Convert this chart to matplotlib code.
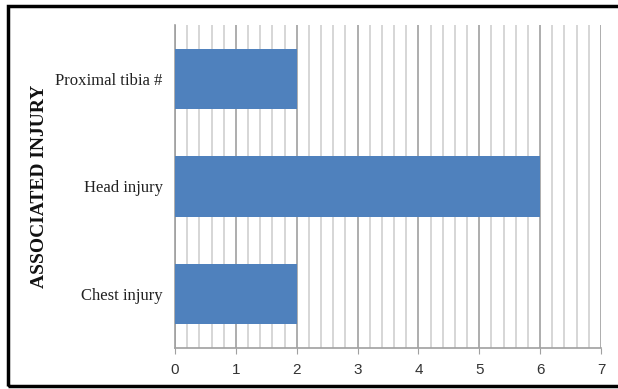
import matplotlib.pyplot as plt
from matplotlib.patches import Rectangle
import numpy as np

categories = ["Chest injury", "Head injury", "Proximal tibia #"]
counts = [2, 6, 2]
x_ticks = [0, 1, 2, 3, 4, 5, 6, 7]

W, H = 618, 389
fig = plt.figure(figsize=(W / 100, H / 100), dpi=100)
plt.rcParams['font.family'] = ['Liberation Serif', 'DejaVu Serif']

# plot area in pixel coordinates
left, right, top, bottom = 175, 601, 25, 348
ax = fig.add_axes([left / W, 1 - bottom / H, (right - left) / W, (bottom - top) / H])

ypos = np.arange(len(categories))
ax.barh(ypos, counts, height=0.56, color='#4f81bd', zorder=3)

ax.set_xlim(0, 7)
ax.set_ylim(-0.5, 2.5)
ax.set_xticks(x_ticks)
ax.set_xticks(np.arange(0, 7.01, 0.2), minor=True)
ax.set_yticks(ypos)
ax.set_yticklabels(categories, fontsize=12, color='#222222')
ax.set_xticklabels([str(t) for t in x_ticks], fontsize=11, color='#333333',
                   family=['Liberation Sans', 'DejaVu Sans'])

ax.grid(axis='x', which='minor', color='#d0d0d0', linewidth=1.2, zorder=0)
ax.grid(axis='x', which='major', color='#a0a0a0', linewidth=1.2, zorder=1)
ax.tick_params(axis='x', which='major', length=4, color='#a0a0a0', pad=7)
ax.tick_params(axis='x', which='minor', length=0)
ax.tick_params(axis='y', length=0, pad=9)
for s in ['top', 'right']:
    ax.spines[s].set_visible(False)
ax.spines['left'].set_color('#a0a0a0')
ax.spines['bottom'].set_color('#a0a0a0')
ax.spines['left'].set_linewidth(1.2)
ax.spines['bottom'].set_linewidth(1.2)

fig.text(40 / W, 1 - 186 / H, "ASSOCIATED INJURY", rotation=90, fontsize=14,
         fontweight='bold', ha='center', va='center', color='#111111')

# outer frame
fig.patches.append(Rectangle((8 / W, 1 - 386 / H), 640 / W, 380 / H,
                             transform=fig.transFigure, fill=False,
                             edgecolor='black', linewidth=2.5))

fig.savefig('out.png', dpi=100)
